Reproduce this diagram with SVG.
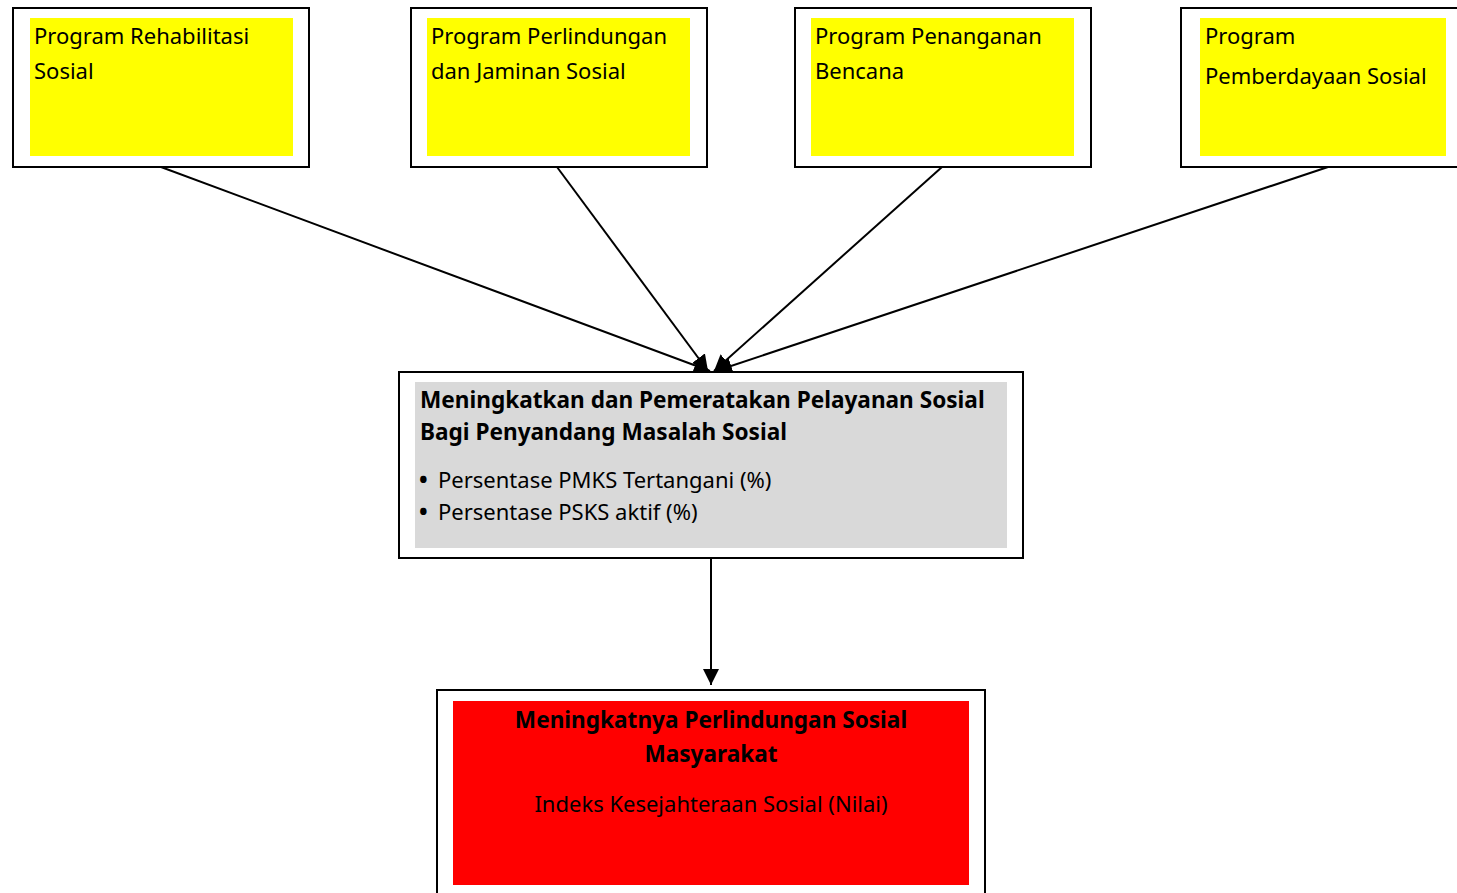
<svg xmlns="http://www.w3.org/2000/svg" width="1457" height="893" viewBox="0 0 1457 893">
<defs>
<style>
.outer{fill:#fff;stroke:#000;stroke-width:2}
.t{font-family:"Noto Sans","Open Sans",sans-serif;font-size:22px;fill:#000}
.b{font-weight:bold;font-size:22.6px}
.bu{font-size:23px;font-weight:bold}
.c{stroke:#000;stroke-width:2;fill:none}
</style>
<marker id="ah2" viewBox="0 0 10 10" refX="10" refY="5" markerWidth="16" markerHeight="16" markerUnits="userSpaceOnUse" orient="auto"><path d="M0,0L10,5L0,10z" fill="#000"/></marker>
</defs>
<rect width="1457" height="893" fill="#fff"/>
<g id="connectors">
<line class="c" x1="161" y1="167" x2="710" y2="371" marker-end="url(#ah2)"/>
<line class="c" x1="557" y1="167" x2="708" y2="371" marker-end="url(#ah2)"/>
<line class="c" x1="942" y1="167" x2="714" y2="371" marker-end="url(#ah2)"/>
<line class="c" x1="1328" y1="167" x2="716" y2="371" marker-end="url(#ah2)"/>
<line class="c" x1="711" y1="558" x2="711" y2="685" marker-end="url(#ah2)"/>
</g>
<g id="n1">
<rect class="outer" x="13" y="8" width="296" height="159"/>
<rect x="30" y="18" width="263" height="138" fill="#ffff00"/>
<text class="t" x="34" y="44">Program Rehabilitasi</text>
<text class="t" x="34" y="79">Sosial</text>
</g>
<g id="n2">
<rect class="outer" x="411" y="8" width="296" height="159"/>
<rect x="427" y="18" width="263" height="138" fill="#ffff00"/>
<text class="t" x="431" y="44">Program Perlindungan</text>
<text class="t" x="431" y="79">dan Jaminan Sosial</text>
</g>
<g id="n3">
<rect class="outer" x="795" y="8" width="296" height="159"/>
<rect x="811" y="18" width="263" height="138" fill="#ffff00"/>
<text class="t" x="815" y="44">Program Penanganan</text>
<text class="t" x="815" y="79">Bencana</text>
</g>
<g id="n4">
<rect class="outer" x="1181" y="8" width="296" height="159"/>
<rect x="1200" y="18" width="246" height="138" fill="#ffff00"/>
<text class="t" x="1205" y="44">Program</text>
<text class="t" x="1205" y="84">Pemberdayaan Sosial</text>
</g>
<g id="n5">
<rect class="outer" x="399" y="372" width="624" height="186"/>
<rect x="415" y="382" width="592" height="166" fill="#d9d9d9"/>
<text class="t b" x="420" y="408">Meningkatkan dan Pemeratakan Pelayanan Sosial</text>
<text class="t b" x="420" y="440">Bagi Penyandang Masalah Sosial</text>
<text class="t" x="419" y="488"><tspan class="bu">•</tspan><tspan x="438">Persentase PMKS Tertangani (%)</tspan></text>
<text class="t" x="419" y="520"><tspan class="bu">•</tspan><tspan x="438">Persentase PSKS aktif (%)</tspan></text>
</g>
<g id="n6">
<rect class="outer" x="437" y="690" width="548" height="230"/>
<rect x="453" y="701" width="516" height="184" fill="#ff0000"/>
<text class="t b" x="711" y="728" text-anchor="middle">Meningkatnya Perlindungan Sosial</text>
<text class="t b" x="711" y="762" text-anchor="middle">Masyarakat</text>
<text class="t" x="711" y="812" text-anchor="middle">Indeks Kesejahteraan Sosial (Nilai)</text>
</g>
</svg>
